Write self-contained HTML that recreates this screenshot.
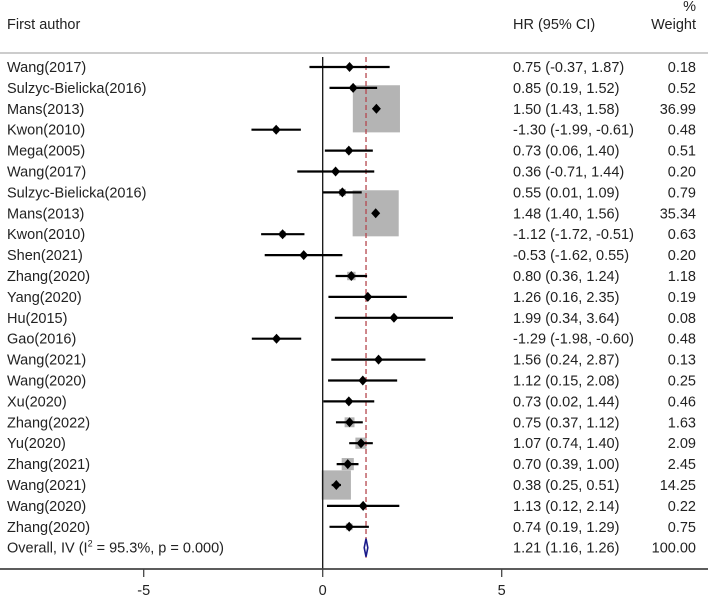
<!DOCTYPE html>
<html><head><meta charset="utf-8"><style>
body{margin:0;background:#fff;}
svg text{font-family:"Liberation Sans",Arial,sans-serif;font-size:14.5px;fill:#222;}
</style></head><body>
<svg id="chart" width="708" height="598" xmlns="http://www.w3.org/2000/svg">
<text x="696" y="11" text-anchor="end">%</text>
<text x="7" y="29">First author</text>
<text x="513" y="29">HR (95% CI)</text>
<text x="696" y="29" text-anchor="end">Weight</text>
<line x1="0" y1="53" x2="708" y2="53" stroke="#bbb" stroke-width="1.5"/>
<g id="marks"></g>
</svg>
<script>
const names=["Wang(2017)","Sulzyc-Bielicka(2016)","Mans(2013)","Kwon(2010)","Mega(2005)","Wang(2017)","Sulzyc-Bielicka(2016)","Mans(2013)","Kwon(2010)","Shen(2021)","Zhang(2020)","Yang(2020)","Hu(2015)","Gao(2016)","Wang(2021)","Wang(2020)","Xu(2020)","Zhang(2022)","Yu(2020)","Zhang(2021)","Wang(2021)","Wang(2020)","Zhang(2020)"];
const hr=[0.75,0.85,1.50,-1.30,0.73,0.36,0.55,1.48,-1.12,-0.53,0.80,1.26,1.99,-1.29,1.56,1.12,0.73,0.75,1.07,0.70,0.38,1.13,0.74];
const lo=[-0.37,0.19,1.43,-1.99,0.06,-0.71,0.01,1.40,-1.72,-1.62,0.36,0.16,0.34,-1.98,0.24,0.15,0.02,0.37,0.74,0.39,0.25,0.12,0.19];
const hi=[1.87,1.52,1.58,-0.61,1.40,1.44,1.09,1.56,-0.51,0.55,1.24,2.35,3.64,-0.60,2.87,2.08,1.44,1.12,1.40,1.00,0.51,2.14,1.29];
const weights=[0.18,0.52,36.99,0.48,0.51,0.20,0.79,35.34,0.63,0.20,1.18,0.19,0.08,0.48,0.13,0.25,0.46,1.63,2.09,2.45,14.25,0.22,0.75];
const overall=[1.21,1.16,1.26];
const ticks=[-5,0,5];
const NS="http://www.w3.org/2000/svg";
const g=document.getElementById('marks');
const X=v=>322.7+v*35.8;
const Y=i=>67+i*20.9;
function mk(t,a){const e=document.createElementNS(NS,t);for(const k in a)e.setAttribute(k,a[k]);g.appendChild(e);return e;}
const f=v=>v.toFixed(2);
for(let i=0;i<names.length;i++){
  const s=7.75*Math.sqrt(weights[i]);
  const b=mk('rect',{x:X(hr[i])-s/2,y:Y(i)-s/2,width:s,height:s,fill:'#b4b4b4'});
  
  
}
const z=mk('line',{x1:X(0),y1:57,x2:X(0),y2:569,stroke:'#111','stroke-width':1.3});


const d=mk('line',{x1:X(overall[0]),y1:57,x2:X(overall[0]),y2:Y(names.length)+10,stroke:'#b5474e','stroke-width':1.3,'stroke-dasharray':'5,3'});


for(let i=0;i<names.length;i++){
  const y=Y(i);
  const l=mk('line',{x1:X(lo[i]),y1:y,x2:X(hi[i]),y2:y,stroke:'#000','stroke-width':2.2});
  
  
  const x=X(hr[i]);
  const p=mk('polygon',{points:`${x},${y-5} ${x+4.5},${y} ${x},${y+5} ${x-4.5},${y}`,fill:'#000'});
  
  
  const t1=mk('text',{x:7,y:y+5});t1.textContent=names[i];
  
  
  const t2=mk('text',{x:513,y:y+5});t2.textContent=`${f(hr[i])} (${f(lo[i])}, ${f(hi[i])})`;
  
  
  const t3=mk('text',{x:696,y:y+5,'text-anchor':'end'});t3.textContent=f(weights[i]);
  
  
}
const oy=Y(names.length);
const od=mk('polygon',{points:`${X(overall[1])},${oy} ${X(overall[0])},${oy-9} ${X(overall[2])},${oy} ${X(overall[0])},${oy+9}`,fill:'#fff',stroke:'#1a1a8a','stroke-width':1.6});


const ot=mk('text',{x:7,y:oy+5});
ot.innerHTML='Overall, IV (I<tspan dy="-6" font-size="9">2</tspan><tspan dy="6"> = 95.3%, p = 0.000)</tspan>';


const ov=mk('text',{x:513,y:oy+5});ov.textContent=`${f(overall[0])} (${f(overall[1])}, ${f(overall[2])})`;


const ow=mk('text',{x:696,y:oy+5,'text-anchor':'end'});ow.textContent='100.00';


const ax=mk('line',{x1:0,y1:569,x2:708,y2:569,stroke:'#444','stroke-width':1.8});


for(const t of ticks){
  const tl=mk('line',{x1:X(t),y1:569,x2:X(t),y2:577,stroke:'#444','stroke-width':1.3});
  
  
  const tt=mk('text',{x:X(t),y:595,'text-anchor':'middle'});tt.textContent=String(t);
  
  
}
</script>
</body></html>
